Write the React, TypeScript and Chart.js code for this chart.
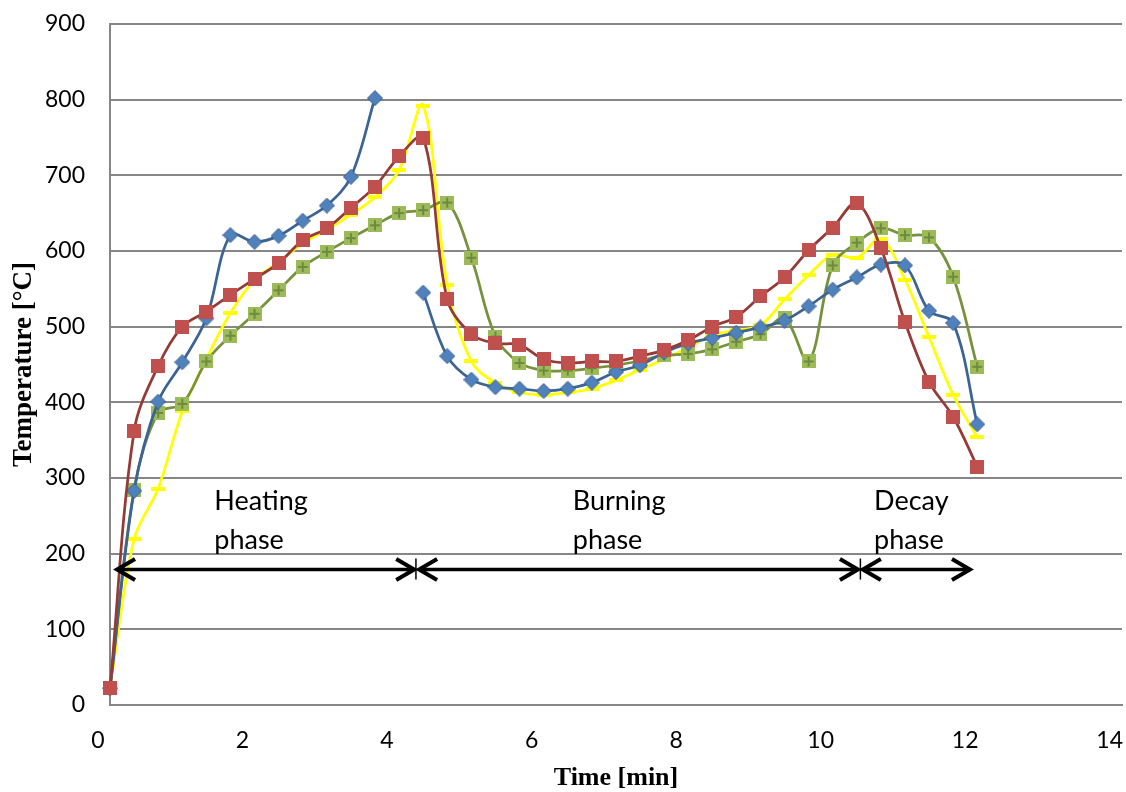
import React, { useEffect, useRef } from 'react';
import { Chart, registerables } from 'chart.js';

Chart.register(...registerables);

// ---- data ----
const timeMin = [0.167, 0.5, 0.833, 1.167, 1.5, 1.833, 2.167, 2.5, 2.833, 3.167, 3.5, 3.833, 4.167, 4.5, 4.833, 5.167, 5.5, 5.833, 6.167, 6.5, 6.833, 7.167, 7.5, 7.833, 8.167, 8.5, 8.833, 9.167, 9.5, 9.833, 10.167, 10.5, 10.833, 11.167, 11.5, 11.833, 12.167];
const seriesBlue = [22, 283, 401, 453, 511, 621, 612, 620, 640, 660, 698, 802, null, 545, 461, 430, 420, 418, 415, 418, 426, 440, 449, 466, 478, 485, 492, 499, 508, 527, 549, 565, 582, 581, 521, 505, 371];
const seriesRed = [22, 362, 448, 500, 520, 542, 563, 584, 614, 630, 657, 685, 725, 750, 536, 490, 478, 476, 457, 452, 454, 454, 461, 469, 482, 500, 513, 540, 565, 601, 631, 663, 604, 506, 427, 381, 315];
const seriesYellow = [22, 219, 286, 388, 457, 518, 562, 585, 610, 628, 648, 671, 707, 792, 555, 454, 426, 413, 410, 413, 418, 429, 443, 457, 472, 489, 495, 502, 536, 568, 595, 591, 616, 562, 486, 410, 354];
const seriesGreen = [22, 284, 386, 398, 454, 488, 517, 548, 579, 599, 617, 634, 650, 654, 664, 591, 487, 452, 442, 442, 445, 449, 455, 462, 464, 470, 480, 490, 511, 454, 581, 611, 630, 621, 618, 566, 447];

const xTickValues = [0, 2, 4, 6, 8, 10, 12, 14];
const phaseNames = [['Heating', 'phase'], ['Burning', 'phase'], ['Decay', 'phase']];
const phaseLabelX = [1.61, 6.57, 10.74];
const phaseLabelY = [258, 206];
const arrowStart = [0.25, 4.43, 10.57];
const arrowEnd = [4.39, 10.53, 12.08];
const phaseDividers = [4.4, 10.55];
const arrowLevel = 179;

function makeMarker(kind: string): HTMLCanvasElement {
  const c = document.createElement('canvas');
  const ctx = c.getContext('2d')!;
  if (kind === 'diamond') {
    c.width = 16; c.height = 16;
    ctx.beginPath();
    ctx.moveTo(8, 0.5); ctx.lineTo(15.5, 8); ctx.lineTo(8, 15.5); ctx.lineTo(0.5, 8); ctx.closePath();
    ctx.fillStyle = '#4F81BD'; ctx.fill();
    ctx.strokeStyle = '#385D8A'; ctx.lineWidth = 1; ctx.stroke();
  } else if (kind === 'square') {
    c.width = 14; c.height = 14;
    ctx.fillStyle = '#C0504D'; ctx.fillRect(0, 0, 14, 14);
  } else if (kind === 'dash') {
    c.width = 14; c.height = 4;
    ctx.fillStyle = '#FFFF00'; ctx.fillRect(0, 0, 14, 4);
  } else {
    c.width = 14; c.height = 14;
    ctx.fillStyle = '#9BBB59'; ctx.fillRect(0, 0, 14, 14);
    ctx.fillStyle = '#71893F';
    ctx.fillRect(6, 2, 2, 10);
    ctx.fillRect(2, 6, 10, 2);
  }
  return c;
}

const phasePlugin = {
  id: 'phases',
  afterDraw(chart: any) {
    const { ctx, scales } = chart;
    const xs = scales.x, ys = scales.y;
    const y = ys.getPixelForValue(arrowLevel);
    ctx.save();
    ctx.strokeStyle = '#000';
    ctx.fillStyle = '#000';
    for (let i = 0; i < arrowStart.length; i++) {
      const x1 = xs.getPixelForValue(arrowStart[i]);
      const x2 = xs.getPixelForValue(arrowEnd[i]);
      ctx.lineWidth = 3.5;
      ctx.beginPath(); ctx.moveTo(x1 + 2, y); ctx.lineTo(x2 - 2, y); ctx.stroke();
      ctx.lineWidth = 4;
      ctx.lineJoin = 'miter';
      ctx.beginPath();
      ctx.moveTo(x1 + 19, y - 10.5); ctx.lineTo(x1 + 1, y); ctx.lineTo(x1 + 19, y + 10.5);
      ctx.stroke();
      ctx.beginPath();
      ctx.moveTo(x2 - 19, y - 10.5); ctx.lineTo(x2 - 1, y); ctx.lineTo(x2 - 19, y + 10.5);
      ctx.stroke();
    }
    ctx.lineWidth = 1.5;
    for (const d of phaseDividers) {
      const xd = xs.getPixelForValue(d);
      ctx.beginPath(); ctx.moveTo(xd, y - 11); ctx.lineTo(xd, y + 10); ctx.stroke();
    }
    ctx.font = '27px Lato';
    ctx.textAlign = 'left';
    ctx.textBaseline = 'alphabetic';
    for (let i = 0; i < phaseNames.length; i++) {
      const xp = xs.getPixelForValue(phaseLabelX[i]);
      phaseNames[i].forEach((line, j) => {
        ctx.fillText(line, xp, ys.getPixelForValue(phaseLabelY[j]));
      });
    }
    ctx.restore();
  },
};

export default function App() {
  const ref = useRef<HTMLCanvasElement | null>(null);
  useEffect(() => {
    if (!ref.current) return;
    const mk = (vals: (number | null)[]) => timeMin.map((t, i) => ({ x: t, y: vals[i] }));
    const common = { borderWidth: 2.75, pointRadius: 7, pointHoverRadius: 7, tension: 0.35, spanGaps: false, clip: false as any, fill: false };
    const chart = new Chart(ref.current, {
      type: 'line',
      data: {
        datasets: [
          { ...common, label: 'Red', data: mk(seriesRed), borderColor: '#943A37', pointStyle: makeMarker('square'), order: 0 },
          { ...common, label: 'Blue', data: mk(seriesBlue), borderColor: '#3B6393', pointStyle: makeMarker('diamond'), order: 1 },
          { ...common, label: 'Green', data: mk(seriesGreen), borderColor: '#76923C', pointStyle: makeMarker('plus'), order: 2 },
          { ...common, label: 'Yellow', data: mk(seriesYellow), borderColor: '#FFFF00', pointStyle: makeMarker('dash'), order: 3 },
        ] as any,
      },
      options: {
        responsive: false,
        animation: false,
        devicePixelRatio: 1,
        layout: { autoPadding: false, padding: { top: 24, right: 4, left: 0, bottom: 0 } },
        plugins: { legend: { display: false }, tooltip: { enabled: false } },
        scales: {
          x: {
            type: 'linear',
            min: 0.1667,
            max: 14.17,
            afterBuildTicks: (s: any) => { s.ticks = xTickValues.map((v) => ({ value: v })); },
            afterFit: (s: any) => { s.height = 87; s.paddingLeft = 0; s.paddingRight = 0; },
            ticks: {
              autoSkip: false,
              maxRotation: 0,
              padding: 22,
              color: '#000',
              font: { family: 'Lato', size: 23 },
              callback: (v: any) => String(v),
            },
            grid: { display: false, drawTicks: false },
            border: { display: true, color: '#868686', width: 2 },
            title: {
              display: true,
              text: 'Time [min]',
              color: '#000',
              font: { family: 'Liberation Serif', weight: 'bold', size: 26, lineHeight: 1 },
              padding: { top: 0, bottom: 1 },
            },
          },
          y: {
            min: 0,
            max: 900,
            afterFit: (s: any) => { s.width = 110; s.paddingTop = 0; s.paddingBottom = 0; },
            ticks: {
              stepSize: 100,
              padding: 25,
              color: '#000',
              font: { family: 'Lato', size: 23 },
            },
            grid: { color: '#868686', lineWidth: 2, drawTicks: false },
            border: { display: true, color: '#868686', width: 2 },
            title: {
              display: true,
              text: 'Temperature [°C]',
              color: '#000',
              font: { family: 'Liberation Serif', weight: 'bold', size: 27, lineHeight: 1 },
              padding: { top: 11, bottom: 0 },
            },
          },
        },
      } as any,
      plugins: [phasePlugin],
    });
    return () => chart.destroy();
  }, []);
  return (
    <canvas
      ref={ref}
      width={1126}
      height={792}
      style={{ position: 'absolute', left: 0, top: 0, display: 'block' }}
    />
  );
}
